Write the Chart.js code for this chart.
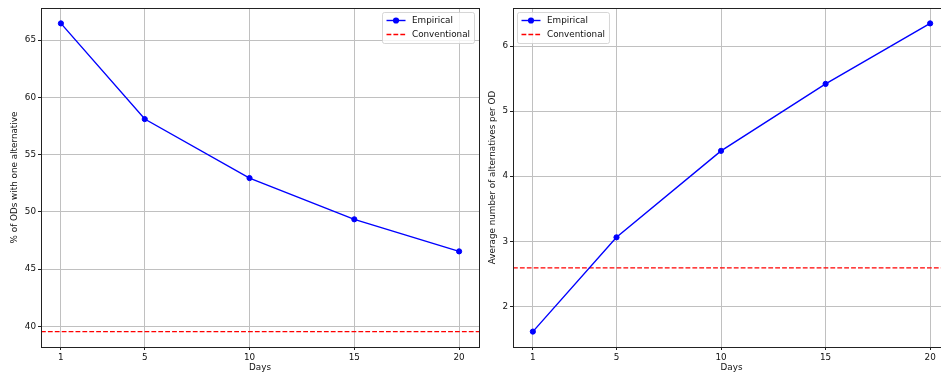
<!DOCTYPE html>
<html>
<head>
<meta charset="utf-8">
<script src="https://cdn.jsdelivr.net/npm/chart.js@4.4.1/dist/chart.umd.min.js"></script>
<style>
    html, body { margin: 0; padding: 0; background: #fff; overflow: hidden; }
    #wrap { position: relative; width: 941px; height: 376px; overflow: hidden; }
    canvas { position: absolute; top: 0; }
</style>
</head>
<body>
<div id="wrap">
    <canvas id="pct-chart" style="left:0"></canvas>
    <canvas id="avg-chart" style="left:484px"></canvas>
</div>
<script>
// Data
const days = [1, 5, 10, 15, 20];
const pctOneAlternative = [66.45, 58.1, 52.95, 49.35, 46.55];
const pctConventional = 39.55;
const avgAlternatives = [1.61, 3.06, 4.39, 5.42, 6.35];
const avgConventional = 2.59;
const pctTicks = [40, 45, 50, 55, 60, 65];
const avgTicks = [2, 3, 4, 5, 6];

const FONT = 'DejaVu Sans';
const FONT_SIZE = 8.8;
const TEXT = '#111';

// matplotlib-style 5% autoscale margins
function padRange(values) {
    const lo = Math.min(...values), hi = Math.max(...values);
    const m = (hi - lo) * 0.05;
    return [lo - m, hi + m];
}

// Axes frame drawn on all four sides (spines)
const framePlugin = {
    id: 'frame',
    afterDatasetsDraw(chart) {
        const { ctx, chartArea: a } = chart;
        ctx.save();
        ctx.strokeStyle = '#222';
        ctx.lineWidth = 1;
        ctx.strokeRect(Math.round(a.left) + 0.5, Math.round(a.top) + 0.5,
            Math.round(a.right - a.left), Math.round(a.bottom - a.top));
        ctx.restore();
    },
};

// Legend box in the matplotlib look
const boxLegend = {
    id: 'boxLegend',
    afterDraw(chart, args, opts) {
        const { ctx, chartArea: a } = chart;
        const sets = chart.data.datasets;
        ctx.save();
        ctx.font = `${FONT_SIZE}px "${FONT}"`;
        const textW = Math.max(...sets.map(d => ctx.measureText(d.label).width));
        const pad = 4, handle = 19, gap = 7, rowH = 14;
        const w = pad + handle + gap + textW + pad;
        const h = 31;
        const x = opts.side === 'right' ? opts.anchorX - w : opts.anchorX;
        const y = a.top + 4;

        ctx.beginPath();
        ctx.roundRect(x + 0.5, y + 0.5, w, h, 2);
        ctx.fillStyle = 'rgba(255,255,255,0.8)';
        ctx.fill();
        ctx.strokeStyle = 'rgba(204,204,204,0.8)';
        ctx.lineWidth = 1;
        ctx.stroke();

        sets.forEach((d, i) => {
            const cy = y + 8.5 + i * rowH;
            ctx.strokeStyle = d.borderColor;
            ctx.lineWidth = d.borderWidth;
            ctx.setLineDash(d.borderDash || []);
            ctx.beginPath();
            ctx.moveTo(x + pad + 0.5, cy);
            ctx.lineTo(x + pad + 0.5 + handle, cy);
            ctx.stroke();
            ctx.setLineDash([]);
            if (d.pointRadius > 0) {
                ctx.fillStyle = d.pointBackgroundColor;
                ctx.beginPath();
                ctx.arc(x + pad + 0.5 + handle / 2, cy, d.pointRadius + 0.5, 0, Math.PI * 2);
                ctx.fill();
            }
            ctx.fillStyle = TEXT;
            ctx.textBaseline = 'middle';
            ctx.textAlign = 'left';
            ctx.fillText(d.label, x + pad + handle + gap, cy);
        });
        ctx.restore();
    },
};

function makePanel(canvasId, opts) {
    const canvas = document.getElementById(canvasId);
    canvas.width = opts.width;
    canvas.height = 376;
    canvas.style.width = opts.width + 'px';
    canvas.style.height = '376px';

    const xRange = padRange(days);
    const yRange = padRange([...opts.values, opts.conventional]);

    return new Chart(canvas, {
        type: 'line',
        data: {
            datasets: [
                {
                    label: 'Empirical',
                    data: days.map((d, i) => ({ x: d, y: opts.values[i] })),
                    borderColor: '#0000ff',
                    backgroundColor: '#0000ff',
                    pointBackgroundColor: '#0000ff',
                    pointBorderColor: '#0000ff',
                    borderWidth: 1.4,
                    pointRadius: 2.6,
                    pointBorderWidth: 1,
                    tension: 0,
                },
                {
                    label: 'Conventional',
                    data: [{ x: xRange[0], y: opts.conventional }, { x: xRange[1], y: opts.conventional }],
                    borderColor: '#ff0000',
                    borderWidth: 1.4,
                    borderDash: [4.8, 2.1],
                    pointRadius: 0,
                },
            ],
        },
        options: {
            responsive: false,
            animation: false,
            devicePixelRatio: 1,
            layout: { padding: { top: 8, right: 5, left: 0, bottom: 0 } },
            plugins: {
                legend: { display: false },
                tooltip: { enabled: false },
                boxLegend: { side: opts.legendSide, anchorX: opts.legendX },
            },
            scales: {
                x: {
                    type: 'linear',
                    min: xRange[0],
                    max: xRange[1],
                    afterBuildTicks: s => { s.ticks = days.map(v => ({ value: v })); },
                    afterFit: s => { s.height = 29; },
                    grid: { color: '#c0c0c0', lineWidth: 1, tickColor: '#222', tickLength: 3 },
                    border: { display: false },
                    ticks: { color: TEXT, font: { family: FONT, size: FONT_SIZE }, padding: 2, maxRotation: 0 },
                    title: {
                        display: true, text: 'Days', color: TEXT,
                        font: { family: FONT, size: FONT_SIZE, lineHeight: 1.2 },
                        padding: { top: 0, bottom: 2.7 },
                    },
                },
                y: {
                    min: yRange[0],
                    max: yRange[1],
                    afterBuildTicks: s => { s.ticks = opts.ticks.map(v => ({ value: v })); },
                    afterFit: s => { s.width = opts.axisWidth; },
                    grid: { color: '#c0c0c0', lineWidth: 1, tickColor: '#222', tickLength: 3 },
                    border: { display: false },
                    ticks: { color: TEXT, font: { family: FONT, size: FONT_SIZE }, padding: 2 },
                    title: {
                        display: true, text: opts.yTitle, color: TEXT,
                        font: { family: FONT, size: FONT_SIZE, lineHeight: 1.2 },
                        padding: { top: opts.titlePad, bottom: 0 },
                    },
                },
            },
        },
        plugins: [framePlugin, boxLegend],
    });
}

makePanel('pct-chart', {
    width: 484, axisWidth: 41, titlePad: 9.5,
    values: pctOneAlternative, conventional: pctConventional, ticks: pctTicks,
    yTitle: '% of ODs with one alternative', legendSide: 'right', legendX: 474,
});

// right panel runs past the window edge, as in the cropped reference
makePanel('avg-chart', {
    width: 471, axisWidth: 29, titlePad: 3.7,
    values: avgAlternatives, conventional: avgConventional, ticks: avgTicks,
    yTitle: 'Average number of alternatives per OD', legendSide: 'left', legendX: 33,
});
</script>
</body>
</html>
